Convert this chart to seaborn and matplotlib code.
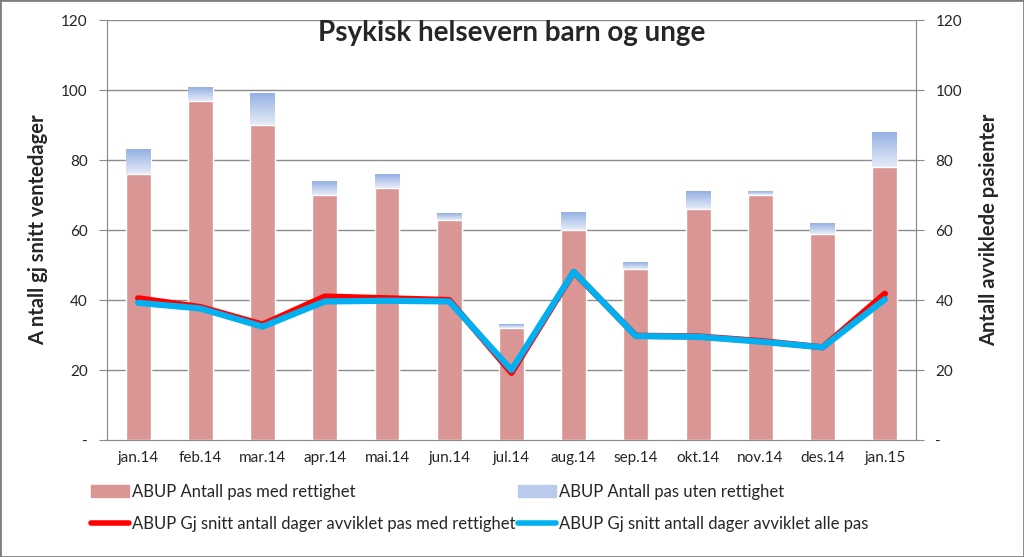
import numpy as np
import pandas as pd
import matplotlib
matplotlib.use('Agg')
import matplotlib.pyplot as plt
import seaborn as sns
from matplotlib.patches import Patch
from matplotlib.lines import Line2D
from matplotlib.colors import LinearSegmentedColormap

months = ['jan.14', 'feb.14', 'mar.14', 'apr.14', 'mai.14', 'jun.14', 'jul.14',
          'aug.14', 'sep.14', 'okt.14', 'nov.14', 'des.14', 'jan.15']
med_rettighet = [76, 97, 90, 70, 72, 63, 32, 60, 49, 66, 70, 59, 78]
uten_rettighet = [7, 4, 9, 4, 4, 2, 1, 5, 2, 5, 1, 3, 10]
snitt_med = [40.5, 38, 33, 41, 40.5, 40, 19.2, 48, 29.8, 29.6, 28.3, 26.5, 41.8]
snitt_alle = [39.2, 37.6, 32.4, 39.6, 39.8, 39.6, 20, 48.1, 29.7, 29.5, 28.1, 26.5, 40.2]

df = pd.DataFrame({'month': months, 'med': med_rettighet, 'uten': uten_rettighet,
                   'snitt_med': snitt_med, 'snitt_alle': snitt_alle})
df['total'] = df['med'] + df['uten']
df['pos'] = np.arange(len(df))

sns.set_style('white')
plt.rcParams['font.family'] = ['Lato', 'DejaVu Sans']

RED_BAR = '#D99694'
BLUE_TOP = '#95B1E3'
BLUE_BOT = '#E6ECF8'
GRID = '#8C8C8C'

fig = plt.figure(figsize=(10.24, 5.57), dpi=100)
ax = fig.add_axes([0.1045, 0.21, 0.79, 0.754])
ax2 = ax.twinx()

# bars on the right axis (Antall avviklede pasienter)
sns.barplot(data=df, x='month', y='total', color=BLUE_BOT, width=0.4,
            saturation=1, ax=ax2, zorder=2)
grad = LinearSegmentedColormap.from_list('g', [BLUE_BOT, BLUE_TOP])
for p, lo in zip(list(ax2.patches), df['med']):
    x0 = p.get_x()
    w = p.get_width()
    top = p.get_height()
    ax2.imshow(np.linspace(0, 1, 50).reshape(-1, 1), cmap=grad, origin='lower',
               extent=[x0, x0 + w, lo, top], aspect='auto', zorder=2.5)
sns.barplot(data=df, x='month', y='med', color=RED_BAR, width=0.4,
            saturation=1, ax=ax2, zorder=3)

# lines drawn on the same axes so they stay above the bars
sns.lineplot(data=df, x='pos', y='snitt_med', color='#FF0000', lw=4.5,
             ax=ax2, zorder=5)
sns.lineplot(data=df, x='pos', y='snitt_alle', color='#00B0F0', lw=4.5,
             ax=ax2, zorder=6)

for a in (ax, ax2):
    a.set_ylim(0, 120)
    a.set_xlim(-0.5, len(df) - 0.5)
    a.set_yticks(np.arange(0, 121, 20))
    for s in a.spines.values():
        s.set_color(GRID)
    a.tick_params(axis='y', length=6, color=GRID, labelsize=11, pad=8)

ylabels = ['-'] + [str(v) for v in range(20, 121, 20)]
ax.set_yticklabels(ylabels)
ax2.set_yticklabels(ylabels)
ax.set_xlabel('')
ax2.set_xlabel('')
ax2.set_ylabel('Antall avviklede pasienter', fontsize=14.5, fontweight='bold', labelpad=12)
ax.set_ylabel('A ntall gj snitt ventedager', fontsize=14.5, fontweight='bold', labelpad=9)

ax.grid(False)
ax2.grid(False)
for yv in range(20, 121, 20):
    ax2.axhline(yv, color=GRID, lw=1, zorder=1)

# x ticks at category boundaries, labels centred
ax2.set_xticks([])
ax.set_xticks(np.arange(-0.5, len(df), 1))
ax.set_xticklabels([])
ax.set_xticks(np.arange(len(df)), minor=True)
ax.set_xticklabels(months, minor=True)
ax.tick_params(axis='x', which='major', length=6, color=GRID)
ax.tick_params(axis='x', which='minor', length=0, labelsize=11, pad=8)
ax.spines['top'].set_visible(False)
ax2.spines['top'].set_visible(False)

fig.text(0.5, 0.94, 'Psykisk helsevern barn og unge', ha='center', va='center',
         fontsize=20, fontweight='bold')

# legend filled row by row like the original: column 1 = med / red line
handles = [Patch(color=RED_BAR), Line2D([], [], color='#FF0000', lw=4),
           Patch(color='#B9CAEC'), Line2D([], [], color='#00B0F0', lw=4)]
labels = ['ABUP Antall pas med rettighet',
          'ABUP Gj snitt antall dager avviklet pas med rettighet',
          'ABUP Antall pas uten rettighet',
          'ABUP Gj snitt antall dager avviklet alle pas']
fig.legend(handles, labels, loc='lower left', bbox_to_anchor=(0.074, 0.018), ncol=2,
           frameon=False, fontsize=12, columnspacing=0.1, handlelength=2.3,
           handletextpad=0.2, labelspacing=0.95)

fig.patches.append(plt.Rectangle((0, 0), 1, 1, transform=fig.transFigure,
                                 fill=False, edgecolor='#7F7F7F', lw=2))
fig.savefig('out.png', dpi=100)
